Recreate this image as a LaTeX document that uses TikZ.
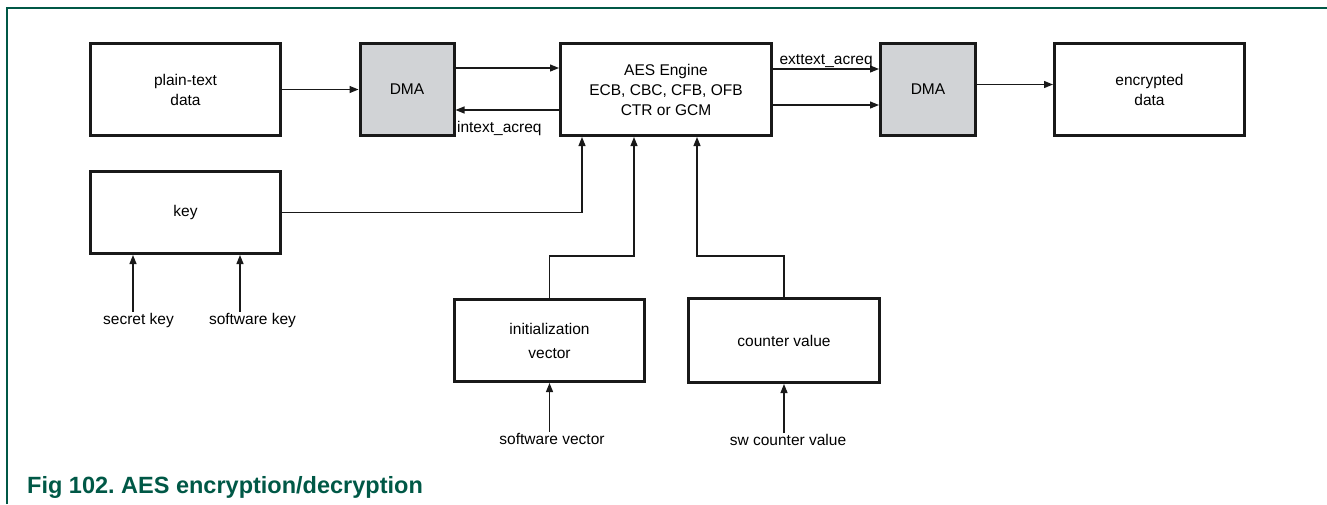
\documentclass[tikz,border=0pt]{standalone}
\usepackage{fontspec}
\setmainfont{Liberation Sans}
\usetikzlibrary{arrows.meta}
\definecolor{nxpgreen}{RGB}{0,88,70}
\definecolor{dmagray}{RGB}{209,211,214}
\frenchspacing

\begin{document}
\begin{tikzpicture}[x=1pt,y=-1pt,>={Triangle[length=9pt,width=7pt]}]
  \tikzstyle{blk}=[draw=black!90, line width=3pt, minimum width=190pt, minimum height=82pt, align=center, font=\fontsize{15.5}{20}\selectfont]
  \tikzstyle{dma}=[blk, fill=dmagray, minimum width=94pt, minimum height=92pt]
  \tikzstyle{lbl}=[font=\fontsize{15.5}{20}\selectfont, inner sep=1pt]
  \tikzstyle{arr}=[->, line width=1.2pt, draw=black!90]
  \useasboundingbox (0,0) rectangle (1327,504);
  \draw[nxpgreen, line width=1.5pt] (7,504) -- (7,8) -- (1327,8);

  % data path
  \node[blk, minimum height=92pt] (plain) at (185.5,89.5) {plain-text\\data};
  \node[dma] (dmain) at (407,89.5) {DMA};
  \node[blk, minimum width=211pt, minimum height=92pt] (aes) at (666,89.5) {AES Engine\\ECB, CBC, CFB, OFB\\CTR or GCM};
  \node[dma, minimum width=95pt] (dmaout) at (928,89.5) {DMA};
  \node[blk, minimum height=92pt] (enc) at (1149.5,89.5) {encrypted\\data};

  % key and vectors
  \node[blk] (key) at (185.5,212.5) {key};
  \node[blk] (iv) at (549.5,340.5) {initialization\\[4pt]vector};
  \node[blk, minimum width=191pt, minimum height=84pt] (cnt) at (784,340.5) {counter value};

  \node[lbl] (seckey) at (138.5,320) {secret key};
  \node[lbl] (swkey) at (252.5,320) {software key};
  \node[lbl] (swvec) at (552,439) {software vector};
  \node[lbl] (swcnt) at (788,440) {sw counter value};

  \draw[arr] (plain.east) -- (dmain.west);
  \draw[arr] ([yshift=21.5pt]dmain.east) -- ([yshift=21.5pt]aes.west);
  \draw[arr] ([yshift=-20.5pt]aes.west) -- ([yshift=-20.5pt]dmain.east)
    node[lbl, pos=1, anchor=north west, yshift=-10pt] {intext\_acreq};
  \draw[arr] ([yshift=20.5pt]aes.east) -- ([yshift=20.5pt]dmaout.west)
    node[lbl, pos=0, anchor=base west, xshift=5pt, yshift=5pt] {exttext\_acreq};
  \draw[arr] ([yshift=-15.5pt]aes.east) -- ([yshift=-15.5pt]dmaout.west);
  \draw[arr] ([yshift=5pt]dmaout.east) -- ([yshift=5pt]enc.west);

  \draw[arr] (key.east) -| ([xshift=-84pt]aes.south);
  \draw[arr] (iv.north) -- ++(0pt,42pt) -| ([xshift=-32pt]aes.south);
  \draw[arr] (cnt.north) -- ++(0pt,41pt) -| ([xshift=31pt]aes.south);

  \draw[arr] ([xshift=-5.5pt]seckey.north) -- ([xshift=-5.5pt]seckey.north |- key.south);
  \draw[arr] ([xshift=-12.5pt]swkey.north) -- ([xshift=-12.5pt]swkey.north |- key.south);
  \draw[arr] ([xshift=-2.5pt]swvec.north) -- ([xshift=-2.5pt]swvec.north |- iv.south);
  \draw[arr] ([xshift=-4pt]swcnt.north) -- ([xshift=-4pt]swcnt.north |- cnt.south);

  \node[anchor=base west, text=nxpgreen, inner sep=0pt, font=\bfseries\fontsize{23.5}{28}\selectfont] (cap) at (27,493) {Fig 102. AES encryption/decryption};
\end{tikzpicture}
\end{document}
